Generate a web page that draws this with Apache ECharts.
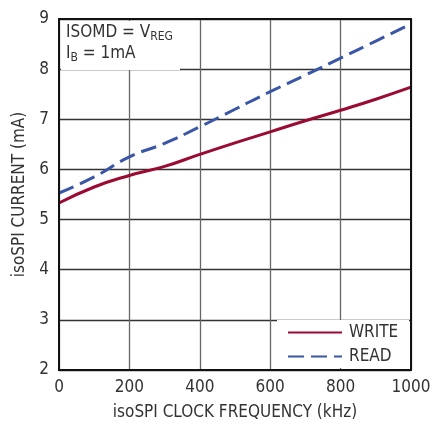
<!DOCTYPE html>
<html><head><meta charset="utf-8">
<script src="https://cdn.jsdelivr.net/npm/echarts@6/dist/echarts.min.js"></script>
<style>html,body{margin:0;padding:0;background:#fff}#c{width:430px;height:423px}</style>
</head><body><div id="c"></div>
<script>
const freq = [0, 100, 200, 300, 400, 500, 600, 700, 800, 900, 1000];
const writeCurrent = [5.33, 5.65, 5.88, 6.06, 6.30, 6.53, 6.75, 6.97, 7.18, 7.40, 7.64];
const readCurrent = [5.53, 5.85, 6.25, 6.52, 6.85, 7.20, 7.55, 7.88, 8.22, 8.56, 8.90];
const xTicks = [0, 200, 400, 600, 800, 1000];
const yTicks = [2, 3, 4, 5, 6, 7, 8, 9];
const FONT = '"Liberation Sans Narrow", "DejaVu Sans Condensed", "Liberation Sans", sans-serif';
const chart = echarts.init(document.getElementById('c'));
const L = 59, R = 411, T = 19, B = 370;
chart.setOption({
  animation: false,
  grid: {left: L, right: 430 - R, top: T, bottom: 423 - B, outerBoundsMode: 'none', containLabel: false, show: false},
  xAxis: {type: 'value', min: 0, max: 1000, interval: 200,
    name: 'isoSPI CLOCK FREQUENCY (kHz)', nameLocation: 'middle', nameGap: 34,
    nameTextStyle: {fontFamily: FONT, fontSize: 17, color: '#333'},
    axisLine: {show: true, lineStyle: {color: '#111', width: 2}}, axisTick: {show: false},
    axisLabel: {fontFamily: FONT, fontSize: 17, color: '#333', margin: 9,
      formatter: v => xTicks.includes(v) ? String(v) : ''},
    splitLine: {show: true, lineStyle: {color: '#666', width: 1.3}}},
  yAxis: {type: 'value', min: 2, max: 9, interval: 1,
    name: 'isoSPI CURRENT (mA)', nameLocation: 'middle', nameGap: 29, nameRotate: 90,
    nameTextStyle: {fontFamily: FONT, fontSize: 17, color: '#333'},
    axisLine: {show: true, lineStyle: {color: '#111', width: 2}}, axisTick: {show: false},
    axisLabel: {fontFamily: FONT, fontSize: 17, color: '#333', margin: 10,
      formatter: v => yTicks.includes(v) ? String(v) : ''},
    splitLine: {show: true, lineStyle: {color: '#333', width: 1.3}}},
  legend: {orient: 'vertical', left: 282, top: 319, itemWidth: 54, itemHeight: 12, itemGap: 7,
    itemStyle: {opacity: 0},
    textStyle: {fontFamily: FONT, fontSize: 17, color: '#333', padding: [0, 0, 0, 2]},
    data: ['WRITE', 'READ'], z: 10},
  graphic: [
    {type: 'rect', z: 1, shape: {x: L + 2, y: T + 2, width: 180 - L - 2, height: 70 - T - 2}, style: {fill: '#fff'}},
    {type: 'rect', z: 1, shape: {x: 277, y: 320, width: R - 277 - 2, height: B - 320 - 2}, style: {fill: '#fff'}},
    {type: 'rect', z: 6, silent: true, shape: {x: L, y: T, width: R - L, height: B - T}, style: {fill: 'none', stroke: '#111', lineWidth: 2}},
    {type: 'text', z: 5, left: 66, top: 24, style: {
      text: 'ISOMD = V{s|REG}', fontFamily: FONT, fontSize: 17, fill: '#333',
      rich: {s: {fontFamily: FONT, fontSize: 12, fill: '#333', verticalAlign: 'bottom', padding: [8, 0, 0, 0]}}}},
    {type: 'text', z: 5, left: 66, top: 45, style: {
      text: 'I{s|B} = 1mA', fontFamily: FONT, fontSize: 17, fill: '#333',
      rich: {s: {fontFamily: FONT, fontSize: 12, fill: '#333', verticalAlign: 'bottom', padding: [8, 0, 0, 0]}}}}
  ],
  series: [
    {name: 'WRITE', type: 'line', data: freq.map((f, i) => [f, writeCurrent[i]]), smooth: true,
      showSymbol: false, symbol: 'none', z: 3, lineStyle: {color: '#9b0a33', width: 3}, itemStyle: {color: '#9b0a33'}},
    {name: 'READ', type: 'line', data: freq.map((f, i) => [f, readCurrent[i]]), smooth: true,
      showSymbol: false, symbol: 'none', z: 3, lineStyle: {color: '#3a56a6', width: 3, type: [16, 7]}, itemStyle: {color: '#3a56a6'}}
  ]
});
</script></body></html>
